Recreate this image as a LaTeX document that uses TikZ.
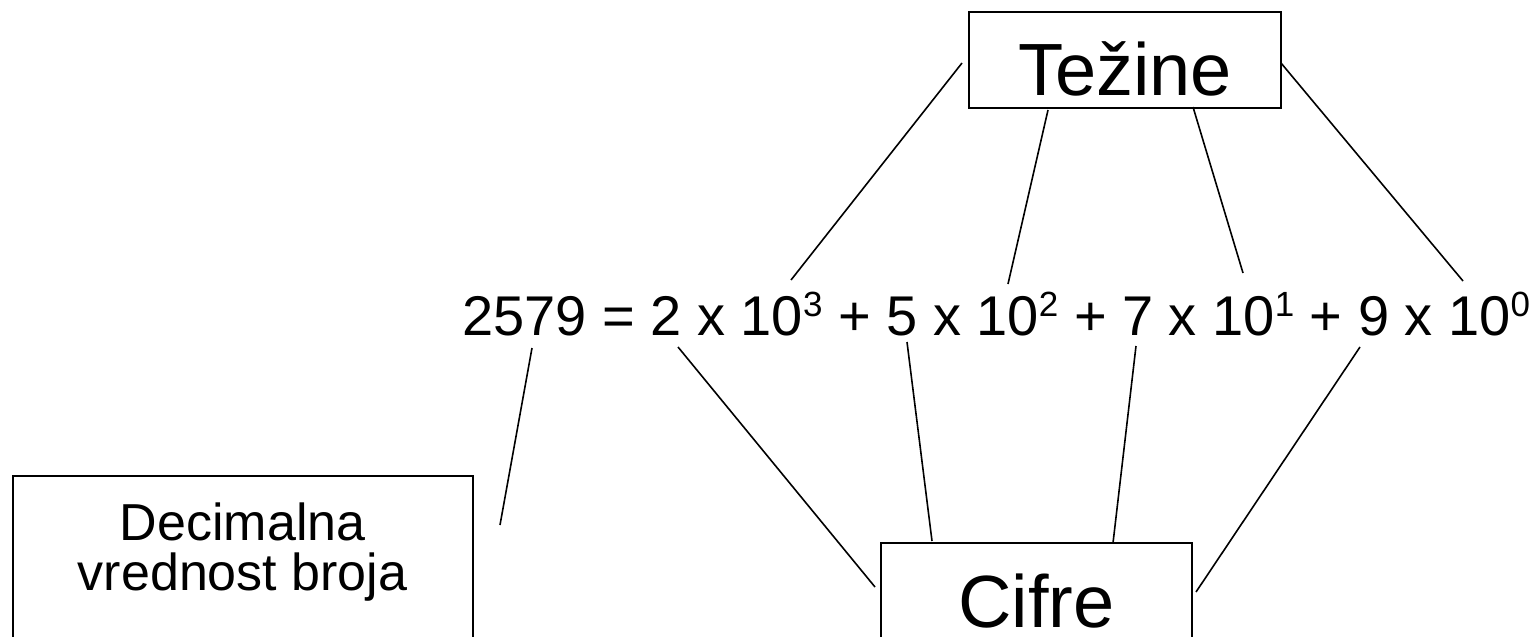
\documentclass[tikz,border=0pt]{standalone}
\usepackage{fontspec}
\setmainfont{Liberation Sans}
\newcommand\supx[1]{\raisebox{19pt}{\fontsize{35}{35}\selectfont #1}}
\begin{document}
\begin{tikzpicture}[x=1pt,y=-1pt,
  box/.style={draw, line width=1.6pt, inner sep=0pt},
  link/.style={line width=1.6pt}]
\useasboundingbox (0,0) rectangle (1537,637);
\node[box, minimum width=312pt, minimum height=96pt, text height=70pt, text depth=0pt,
  font=\fontsize{74}{74}\selectfont] (tez) at (1125,60) {Težine};
\node[box, minimum width=311pt, minimum height=96pt, text height=72pt, text depth=0pt,
  font=\fontsize{74}{74}\selectfont] (cif) at (1036.5,591) {Cifre};
\node[box, anchor=north, minimum width=460pt, minimum height=170pt, text height=80pt, text depth=20pt,
  align=center, font=\fontsize{52}{50}\selectfont] (dec) at (242.7,475) {Decimalna\\vrednost broja};
\node[anchor=base west, inner sep=0pt, font=\fontsize{56}{56}\selectfont] (eq) at (462,335)
  {2579 = 2 x 10\supx{3} + 5 x 10\supx{2} + 7 x 10\supx{1} + 9 x 10\supx{0}};
% endpoints
\coordinate (a1) at (962,63);   \coordinate (b1) at (791,280);
\coordinate (a2) at (1048,110); \coordinate (b2) at (1008,284);
\coordinate (a3) at (1193,107); \coordinate (b3) at (1243,273);
\coordinate (a4) at (1281,63);  \coordinate (b4) at (1463,281);
\coordinate (c5) at (678,347);  \coordinate (d5) at (875,587);
\coordinate (c6) at (907,342);  \coordinate (d6) at (932,541);
\coordinate (c7) at (1136,346); \coordinate (d7) at (1113,543);
\coordinate (c8) at (1360,347); \coordinate (d8) at (1196,592);
\coordinate (c9) at (532,348);  \coordinate (d9) at (500,525);
\draw[link] (a1) -- (b1);
\draw[link] (a2) -- (b2);
\draw[link] (a3) -- (b3);
\draw[link] (a4) -- (b4);
\draw[link] (c5) -- (d5);
\draw[link] (c6) -- (d6);
\draw[link] (c7) -- (d7);
\draw[link] (c8) -- (d8);
\draw[link] (c9) -- (d9);
\end{tikzpicture}
\end{document}
